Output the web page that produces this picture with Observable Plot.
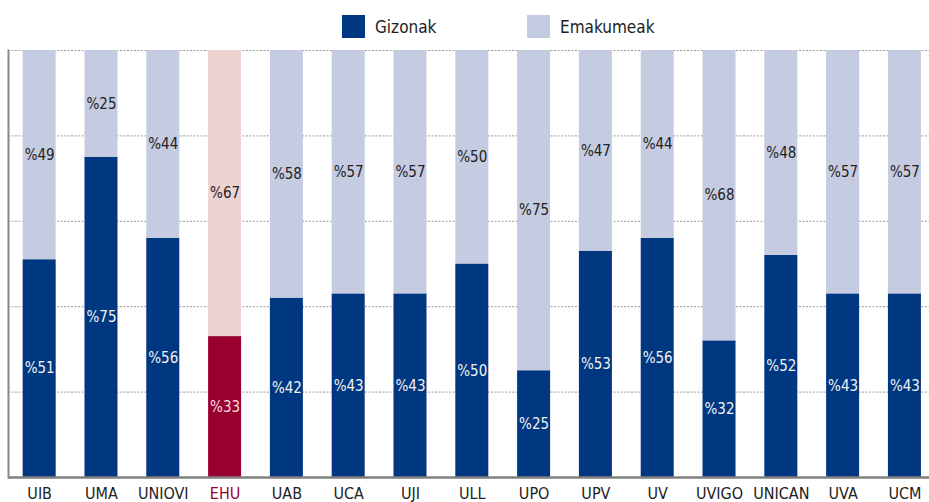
<!DOCTYPE html>
<html>
<head>
<meta charset="utf-8">
<script src="https://cdn.jsdelivr.net/npm/d3@7"></script>
<script src="https://cdn.jsdelivr.net/npm/@observablehq/plot@0.6"></script>
<style>
  html, body { margin: 0; padding: 0; background: #fff; }
  body { width: 929px; height: 502px; overflow: hidden; font-family: 'DejaVu Sans Condensed', 'Liberation Sans Narrow', sans-serif; }
  #legend { position: relative; height: 40px; }
  .sw { position: absolute; top: 15px; width: 23px; height: 23px; }
  .lt { position: absolute; top: 16px; font-size: 17px; line-height: 22px; color: #222; font-stretch: condensed; }
  svg { display: block; }
</style>
</head>
<body>
<div id="legend">
  <div class="sw" style="left:342px;background:#003781"></div>
  <div class="lt" style="left:375px">Gizonak</div>
  <div class="sw" style="left:527px;background:#c5cbe0"></div>
  <div class="lt" style="left:560px">Emakumeak</div>
</div>
<div id="chart"></div>
<script>
const universities = ["UIB","UMA","UNIOVI","EHU","UAB","UCA","UJI","ULL","UPO","UPV","UV","UVIGO","UNICAN","UVA","UCM"];
const men   = [51, 75, 56, 33, 42, 43, 43, 50, 25, 53, 56, 32, 52, 43, 43];
const women = [49, 25, 44, 67, 58, 57, 57, 50, 75, 47, 44, 68, 48, 57, 57];
const seriesNames = ["Gizonak", "Emakumeak"];
const highlight = "EHU";
const gridTicks = [20, 40, 60, 80, 100];

const colors = {
  Gizonak: {normal: "#003781", highlight: "#990030"},
  Emakumeak: {normal: "#c5cbe0", highlight: "#edd3d1"}
};
const labelColors = {
  Gizonak: {normal: "#f2f2f2", highlight: "#f6dde2"},
  Emakumeak: {normal: "#222222", highlight: "#222222"}
};

const data = [];
universities.forEach((u, i) => data.push({uni: u, series: seriesNames[0], value: men[i]}));
universities.forEach((u, i) => data.push({uni: u, series: seriesNames[1], value: women[i]}));
const kind = d => d.uni === highlight ? "highlight" : "normal";

const font = "'DejaVu Sans Condensed', 'Liberation Sans Narrow', sans-serif";

const chart = Plot.plot({
  width: 929,
  height: 462,
  marginLeft: 8,
  marginRight: 0,
  marginTop: 10,
  marginBottom: 25,
  style: {fontFamily: font, fontSize: "15px", background: "white"},
  x: {domain: universities, paddingInner: 0.466, paddingOuter: 0.184, align: 0.645, round: false, axis: null},
  y: {domain: [0, 100], axis: null},
  color: {type: "identity"},
  marks: [
    Plot.ruleY(gridTicks, {stroke: "#9a9a9a", strokeWidth: 1, strokeDasharray: "2,1.5"}),
    Plot.barY(data, Plot.stackY({x: "uni", y: "value", fill: d => colors[d.series][kind(d)]})),
    Plot.text(data, Plot.stackY({
      x: "uni", y: "value",
      text: d => "%" + d.value,
      fill: d => labelColors[d.series][kind(d)],
      fontSize: 15
    })),
    Plot.ruleY([0], {stroke: "#808080", strokeWidth: 2.5}),
    Plot.frame({anchor: "left", stroke: "#888", strokeWidth: 2}),
    Plot.axisX({tickSize: 0, tickPadding: 10, fontSize: 16, label: null,
      fill: d => d === highlight ? "#990030" : "#222"})
  ]
});
document.getElementById("chart").appendChild(chart);
</script>
</body>
</html>
